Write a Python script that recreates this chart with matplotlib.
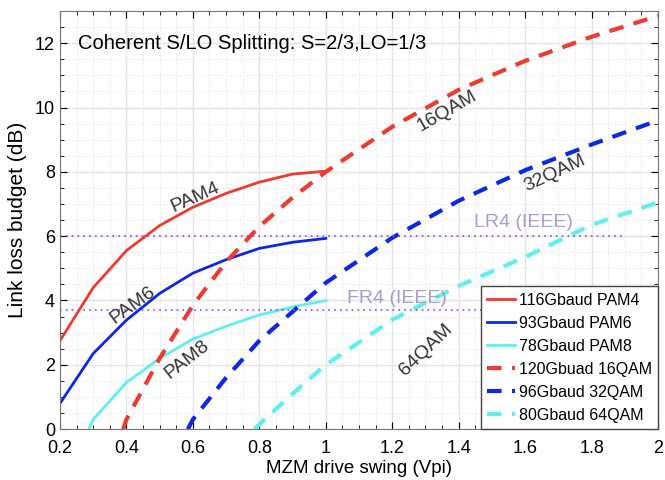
import matplotlib
matplotlib.use('Agg')
import matplotlib.pyplot as plt
from matplotlib.ticker import MultipleLocator

plt.rcParams['font.family'] = ['Liberation Sans', 'DejaVu Sans']

# solid curves (PAM)
x_pam4 = [0.2, 0.3, 0.4, 0.5, 0.6, 0.7, 0.8, 0.9, 1.0]
y_pam4 = [2.75, 4.4, 5.55, 6.33, 6.9, 7.33, 7.68, 7.93, 8.02]
x_pam6 = [0.2, 0.3, 0.4, 0.5, 0.6, 0.7, 0.8, 0.9, 1.0]
y_pam6 = [0.8, 2.35, 3.39, 4.22, 4.85, 5.27, 5.62, 5.81, 5.93]
x_pam8 = [0.287, 0.3, 0.4, 0.5, 0.6, 0.7, 0.8, 0.9, 1.0]
y_pam8 = [0.0, 0.3, 1.45, 2.2, 2.8, 3.2, 3.55, 3.8, 4.0]

# dashed curves (QAM)
x_16 = [0.39, 0.4, 0.5, 0.6, 0.7, 0.8, 0.9, 1.0, 1.2, 1.4, 1.6, 1.8, 2.0]
y_16 = [0.0, 0.3, 2.2, 3.85, 5.2, 6.3, 7.2, 8.0, 9.4, 10.55, 11.45, 12.2, 12.85]
x_32 = [0.585, 0.6, 0.7, 0.8, 0.9, 1.0, 1.2, 1.4, 1.6, 1.8, 2.0]
y_32 = [0.0, 0.3, 1.6, 2.75, 3.65, 4.55, 5.95, 7.1, 8.05, 8.85, 9.6]
x_64 = [0.785, 0.8, 0.9, 1.0, 1.2, 1.4, 1.6, 1.8, 2.0]
y_64 = [0.0, 0.15, 1.1, 2.0, 3.4, 4.45, 5.35, 6.35, 7.05]

labels = ['116Gbaud PAM4', '93Gbaud PAM6', '78Gbaud PAM8',
          '120Gbuad 16QAM', '96Gbaud 32QAM', '80Gbaud 64QAM']
red, blue, cyan = '#f03a2e', '#0a28e6', '#5ef0f0'

lr4 = 6.0
fr4 = 3.7

fig = plt.figure(figsize=(6.65, 4.8), dpi=100)
ax = fig.add_axes([0.0902, 0.106, 0.8993, 0.871])

dash = (0, (3.5, 2.5))
ax.plot(x_pam4, y_pam4, color=red, lw=2, label=labels[0])
ax.plot(x_pam6, y_pam6, color=blue, lw=2, label=labels[1])
ax.plot(x_pam8, y_pam8, color=cyan, lw=2, label=labels[2])
ax.plot(x_16, y_16, color=red, lw=3, ls=dash, label=labels[3])
ax.plot(x_32, y_32, color=blue, lw=3, ls=dash, label=labels[4])
ax.plot(x_64, y_64, color=cyan, lw=3, ls=dash, label=labels[5])

ax.plot([0.2, 1.9], [lr4, lr4], color='#9a40f0', lw=1.2, ls=(0, (1, 2.5)))
ax.plot([0.2, 1.9], [fr4, fr4], color='#9a40f0', lw=1.2, ls=(0, (1, 2.5)))

ax.set_xlim(0.2, 2)
ax.set_ylim(0, 13)
ax.set_xticks([0.2, 0.4, 0.6, 0.8, 1, 1.2, 1.4, 1.6, 1.8, 2])
ax.set_xticklabels(['0.2', '0.4', '0.6', '0.8', '1', '1.2', '1.4', '1.6', '1.8', '2'])
ax.set_yticks([0, 2, 4, 6, 8, 10, 12])
ax.xaxis.set_minor_locator(MultipleLocator(0.05))
ax.yaxis.set_minor_locator(MultipleLocator(0.5))
ax.tick_params(which='both', direction='in', top=True, right=True, labelsize=13)
ax.tick_params(which='major', length=5)
ax.tick_params(which='minor', length=3)
ax.tick_params(axis='x', which='major', pad=8)
ax.grid(True, which='major', color='#e4e4e4', lw=1)
ax.grid(True, which='minor', color='#e4e4e4', lw=0.8, ls=':')
ax.set_axisbelow(True)
for s in ax.spines.values():
    s.set_color('#777777')

ax.set_xlabel('MZM drive swing (Vpi)', fontsize=13.5, labelpad=2)
ax.set_ylabel('Link loss budget (dB)', fontsize=15, labelpad=6)

ax.text(0.254, 12.0, 'Coherent S/LO Splitting: S=2/3,LO=1/3', fontsize=14.5, va='center')

tc = '#333333'
ax.text(0.607, 7.21, 'PAM4', rotation=24, fontsize=14, color=tc, ha='center', va='center')
ax.text(0.42, 3.85, 'PAM6', rotation=36, fontsize=14, color=tc, ha='center', va='center')
ax.text(0.583, 2.15, 'PAM8', rotation=38, fontsize=14, color=tc, ha='center', va='center')
ax.text(1.366, 9.88, '16QAM', rotation=30, fontsize=14, color=tc, ha='center', va='center')
ax.text(1.69, 7.96, '32QAM', rotation=25, fontsize=14, color=tc, ha='center', va='center')
ax.text(1.30, 2.46, '64QAM', rotation=44, fontsize=14, color=tc, ha='center', va='center')

ax.text(1.595, 6.43, 'LR4 (IEEE)', fontsize=14, color='#a89cd0', ha='center', va='center')
ax.text(1.215, 4.07, 'FR4 (IEEE)', fontsize=14, color='#a89cd0', ha='center', va='center')

leg = ax.legend(loc='lower right', fontsize=11.5, frameon=True, fancybox=False,
                borderaxespad=0, handlelength=1.7, handletextpad=0.25,
                labelspacing=0.5, borderpad=0.4)
leg.get_frame().set_edgecolor('#444444')
leg.get_frame().set_linewidth(1)
leg.get_frame().set_alpha(1)

fig.savefig('out.png', dpi=100)
